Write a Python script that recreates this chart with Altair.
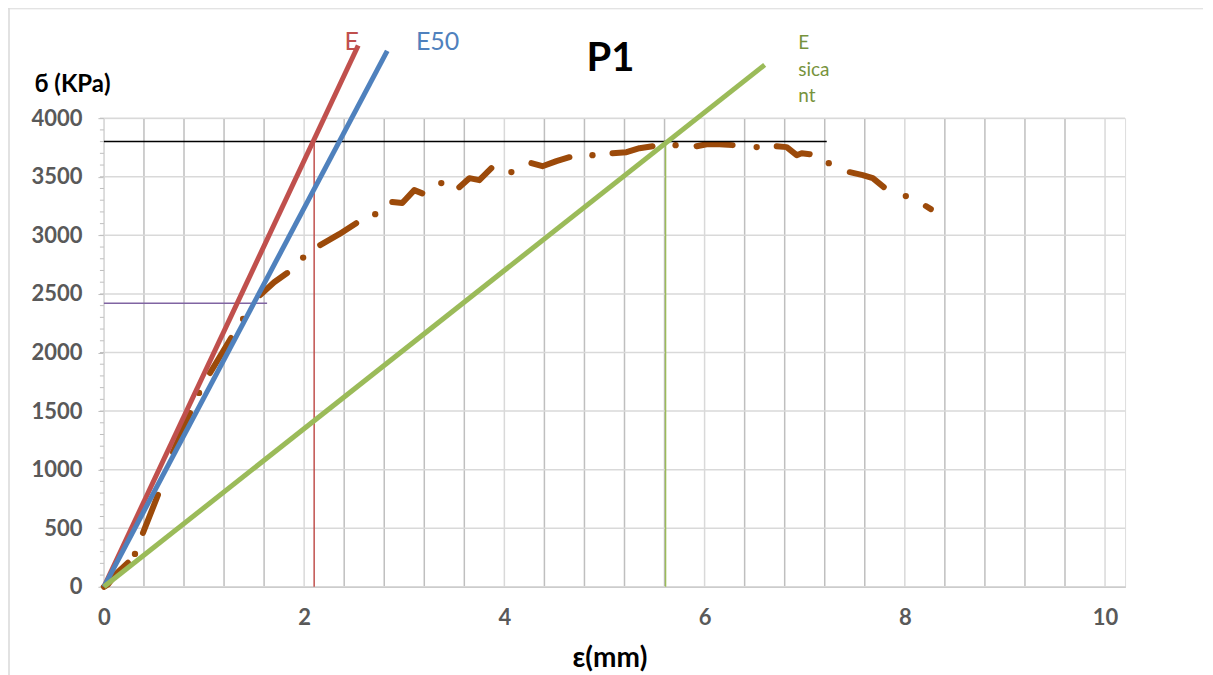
import altair as alt
import pandas as pd

# ---------------- data ----------------
# measured stress-strain curve (drawn as dash-dot strokes + dots)
curve_seg = [1, 1, 1, 1, 2, 2, 3, 3, 4, 4, 5, 5, 5, 6, 6, 6, 7, 7, 7, 7,
             8, 8, 8, 8, 9, 9, 9, 9, 10, 10, 10, 10, 11, 11, 11, 11,
             12, 12, 12, 12, 12, 13, 13, 13, 13, 14, 14]
curve_x = [0.0, 0.04, 0.12, 0.24, 0.39, 0.54, 0.69, 0.86, 1.06, 1.27,
           1.56, 1.70, 1.83, 2.16, 2.35, 2.52, 2.88, 2.98, 3.10, 3.18,
           3.55, 3.65, 3.75, 3.87, 4.27, 4.38, 4.52, 4.65, 5.08, 5.22, 5.35, 5.48,
           5.92, 6.02, 6.15, 6.28, 6.72, 6.82, 6.92, 6.97, 7.05,
           7.45, 7.58, 7.68, 7.79, 8.21, 8.26]
curve_y = [0, 20, 110, 205, 460, 785, 1150, 1484, 1825, 2124,
           2490, 2600, 2678, 2917, 3010, 3104, 3284, 3276, 3386, 3358,
           3411, 3488, 3471, 3573, 3616, 3590, 3633, 3667, 3701, 3710, 3744, 3761,
           3761, 3778, 3778, 3770, 3761, 3753, 3684, 3701, 3693,
           3539, 3514, 3488, 3411, 3250, 3224]
dot_x = [0.31, 0.95, 1.39, 1.99, 2.71, 3.37, 4.07, 4.88, 5.71, 6.52, 7.24, 8.01]
dot_y = [281, 1655, 2286, 2810, 3181, 3446, 3540, 3684, 3770, 3753, 3616, 3335]

# modulus lines (from origin)
mod_names = ["E", "E50", "Esecant"]
mod_end_x = [2.54, 2.83, 6.60]
mod_end_y = [4620, 4575, 4455]
mod_colors = ["#C0504D", "#4F81BD", "#9BBB59"]

# thin construction lines
thin_x = [2.10, 5.61, 0.0, 0.0]
thin_x2 = [2.10, 5.61, 7.22, 1.63]
thin_y = [0, 0, 3800, 2420]
thin_y2 = [3800, 3800, 3800, 2420]
thin_colors = ["#C0504D", "#9BBB59", "#000000", "#8064A2"]

# axes
x_domain = [0, 10.2]
y_domain = [0, 4000]
x_labels = [0, 2, 4, 6, 8, 10]
y_labels = list(range(0, 4001, 500))
x_grid = [round(i * 0.4, 1) for i in range(26)]
y_minor = list(range(0, 4001, 100))

# annotations
ann_text = ["E", "E50"]
ann_x = [2.475, 3.333]
ann_y = [4648, 4648]
ann_colors = ["#C0504D", "#4F81BD"]
sec_text = ["E", "sica", "nt"]
sec_x = [6.936, 6.936, 6.936]
sec_y = [4640, 4409, 4188]
title_text = ["P1"]
title_x = [5.06]
title_y = [4503]

# ---------------- build tables ----------------
curve_df = pd.DataFrame({"seg": curve_seg, "x": curve_x, "y": curve_y})
dot_df = pd.DataFrame({"x": dot_x, "y": dot_y})
mod_rows = []
for n, ex, ey in zip(mod_names, mod_end_x, mod_end_y):
    mod_rows.append({"name": n, "x": 0.0, "y": 0.0})
    mod_rows.append({"name": n, "x": ex, "y": ey})
mod_df = pd.DataFrame(mod_rows)
thin_df = pd.DataFrame({"x": thin_x, "x2": thin_x2, "y": thin_y, "y2": thin_y2, "c": thin_colors})
xgrid_df = pd.DataFrame({"x": x_grid, "y": y_domain[0], "y2": y_domain[1],
                         "major": [abs(v / 2 - round(v / 2)) < 1e-6 for v in x_grid]})
ygrid_df = pd.DataFrame({"y": y_labels, "x": x_domain[0], "x2": x_domain[1]})
yminor_df = pd.DataFrame({"y": y_minor})
ann_df = pd.DataFrame({"t": ann_text, "x": ann_x, "y": ann_y, "c": ann_colors})
sec_df = pd.DataFrame({"t": sec_text, "x": sec_x, "y": sec_y})
title_df = pd.DataFrame({"t": title_text, "x": title_x, "y": title_y})

FONT = "Lato"
xs = alt.Scale(domain=x_domain, nice=False, zero=False)
ys = alt.Scale(domain=y_domain, nice=False, zero=False)

x_axis = alt.Axis(values=x_labels, grid=False, ticks=False, domain=True,
                  domainColor="#bfbfbf", domainWidth=1.5, format="d",
                  labelFont=FONT, labelFontSize=22, labelFontWeight="bold",
                  labelColor="#595959", labelPadding=31, labelBaseline="middle",
                  labelFlush=False,
                  title="ε(mm)", titleFont=FONT, titleFontSize=28,
                  titleFontWeight="bold", titleColor="#000000",
                  titleX=506, titleY=72, titleBaseline="middle",
                  titleAlign="center")
y_axis = alt.Axis(values=y_labels, grid=False, domain=False, format="d",
                  tickColor="#bfbfbf", tickSize=6, tickWidth=1,
                  labelFont=FONT, labelFontSize=22, labelFontWeight="bold",
                  labelColor="#595959", labelPadding=16, labelFlush=False,
                  title="ϭ (KPa)", titleFont=FONT, titleFontSize=24,
                  titleFontWeight="bold", titleColor="#000000",
                  titleAngle=0, titleAlign="left", titleBaseline="middle",
                  titleX=-70, titleY=-34)


def X(field="x"):
    return alt.X(f"{field}:Q", scale=xs, axis=x_axis)


def Y(field="y"):
    return alt.Y(f"{field}:Q", scale=ys, axis=y_axis)


# grid layers
xgrid = alt.Chart(xgrid_df).mark_rule(strokeWidth=1.5).encode(
    x=X(), y=Y(), y2="y2:Q",
    color=alt.condition("datum.major", alt.value("#d9d9d9"), alt.value("#bfbfbf")),
)
ygrid = alt.Chart(ygrid_df).mark_rule(strokeWidth=1.5, color="#d9d9d9").encode(
    x=X(), x2="x2:Q", y=Y(),
)
yminor = alt.Chart(yminor_df).mark_rule(strokeWidth=1, color="#bfbfbf").encode(
    x=alt.value(-4), x2=alt.value(0), y=Y(),
)

# curve
curve = alt.Chart(curve_df).mark_line(strokeWidth=6, strokeCap="round",
                                      strokeJoin="round", color="#9C4A0A").encode(
    x=X(), y=Y(), detail="seg:N",
)
dots = alt.Chart(dot_df).mark_circle(size=40, opacity=1, color="#9C4A0A").encode(
    x=X(), y=Y(),
)

thin = alt.Chart(thin_df).mark_rule(strokeWidth=1.5).encode(
    x=X(), x2="x2:Q", y=Y(), y2="y2:Q",
    color=alt.Color("c:N", scale=None, legend=None),
)

mods = alt.Chart(mod_df).mark_line(strokeWidth=5, clip=False).encode(
    x=X(), y=Y(),
    color=alt.Color("name:N", scale=alt.Scale(domain=mod_names, range=mod_colors), legend=None),
    detail="name:N",
)

ann = alt.Chart(ann_df).mark_text(font=FONT, fontSize=25, baseline="middle", align="center").encode(
    x=X(), y=Y(), text="t:N",
    color=alt.Color("c:N", scale=None, legend=None),
)
sec = alt.Chart(sec_df).mark_text(font=FONT, fontSize=19, baseline="middle", align="left",
                                  color="#77933C").encode(
    x=X(), y=Y(), text="t:N",
)
ttl = alt.Chart(title_df).mark_text(font=FONT, fontSize=40, fontWeight="bold",
                                    baseline="middle", align="center", color="#000000").encode(
    x=X(), y=Y(), text="t:N",
)

# chart-area frame (top and left edges)
frame_top = alt.Chart(pd.DataFrame({"a": [0]})).mark_rule(color="#d9d9d9", strokeWidth=1).encode(
    x=alt.value(-96), x2=alt.value(1100), y=alt.value(-109.5))
frame_left = alt.Chart(pd.DataFrame({"a": [0]})).mark_rule(color="#d9d9d9", strokeWidth=1.5).encode(
    x=alt.value(-95), y=alt.value(-110), y2=alt.value(570))

chart = alt.layer(
    xgrid, ygrid, yminor, curve, dots, thin, mods, ann, sec, ttl, frame_top, frame_left
).properties(
    width=1022, height=469,
    autosize=alt.AutoSizeParams(type="none"),
    padding={"left": 96, "top": 110, "right": 80, "bottom": 88},
).configure_view(stroke=None).configure(background="white")

chart.save("out.html", embed_options={"renderer": "svg", "actions": False})
